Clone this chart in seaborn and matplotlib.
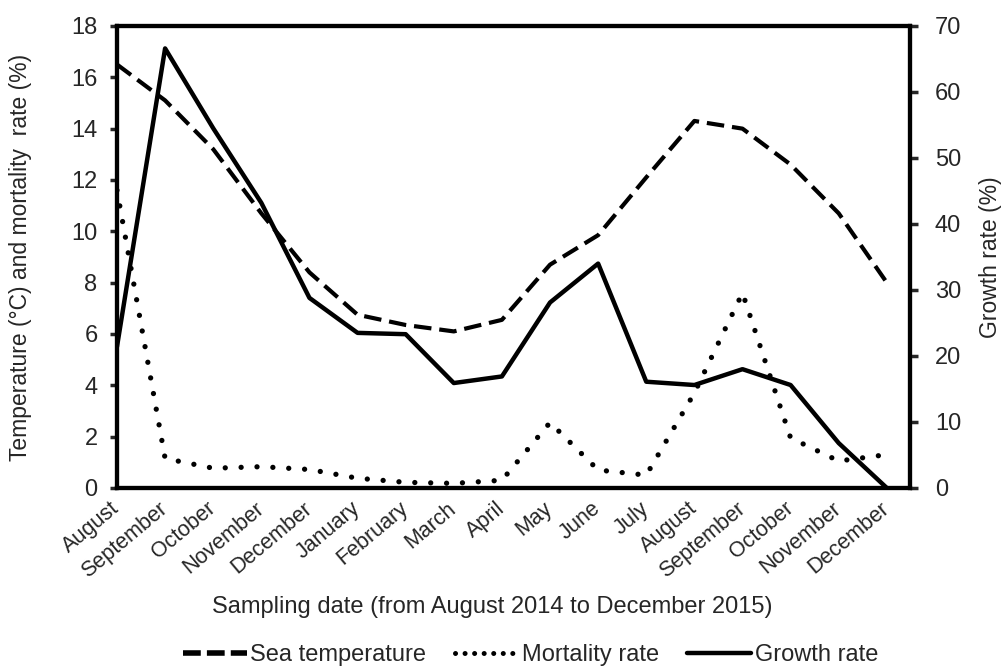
import matplotlib
matplotlib.use("Agg")
import matplotlib.pyplot as plt
from matplotlib.lines import Line2D
import seaborn as sns
import numpy as np
import pandas as pd

months = ["August", "September", "October", "November", "December", "January",
          "February", "March", "April", "May", "June", "July", "August",
          "September", "October", "November", "December"]
sea_temperature = [16.5, 15.1, 13.2, 10.7, 8.4, 6.75, 6.35, 6.1, 6.55, 8.7,
                   9.85, 12.1, 14.3, 14.0, 12.6, 10.7, 8.0]
mortality_rate = [11.6, 1.15, 0.77, 0.83, 0.72, 0.38, 0.22, 0.18, 0.3, 2.55,
                  0.7, 0.5, 3.7, 7.6, 1.95, 1.05, 1.3]
growth_rate = [21.4, 66.6, 54.5, 43.2, 28.8, 23.5, 23.3, 15.9, 16.9, 28.1,
               34.0, 16.1, 15.6, 18.0, 15.6, 6.8, 0.0]
legend_labels = ["Sea temperature", "Mortality rate", "Growth rate"]

sns.set_style("white")
plt.rcParams['font.family'] = ['Liberation Sans', 'DejaVu Sans']

df = pd.DataFrame({"idx": np.arange(len(months)),
                   "temp": sea_temperature,
                   "mort": mortality_rate,
                   "growth": growth_rate})

fig = plt.figure(figsize=(10.05, 6.66), dpi=100)
ax = fig.add_axes([0.1164, 0.2673, 0.789, 0.6937])
ax2 = ax.twinx()

dash_style = (0, (4.2, 1.9))
dot_style = (0, (0.01, 3.0))

sns.lineplot(data=df, x="idx", y="temp", ax=ax, color="black", lw=3.0,
             linestyle=dash_style, legend=False)
sns.lineplot(data=df, x="idx", y="mort", ax=ax, color="black", lw=3.8,
             linestyle=dot_style, legend=False)
sns.lineplot(data=df, x="idx", y="growth", ax=ax2, color="black", lw=3.2,
             linestyle="-", legend=False)
lines = ax.get_lines()
lines[0].set_dash_capstyle("butt")
lines[1].set_dash_capstyle("round")

ax.set_xlim(0, 16.48)
ax.set_ylim(0, 18)
ax2.set_ylim(0, 70)
ax.set_yticks(np.arange(0, 19, 2))
ax2.set_yticks(np.arange(0, 71, 10))
ax.set_xticks(np.arange(len(months)))
ax.set_xticklabels(months, rotation=40, ha="right", va="center",
                   rotation_mode="anchor", fontsize=15.5)
ax.tick_params(axis="y", labelsize=17, direction="out", length=5, width=2.5,
               pad=9)
ax.tick_params(axis="x", direction="out", length=4, width=3, pad=9)
ax2.tick_params(axis="y", labelsize=17, direction="out", length=6, width=2.5,
                pad=12)

for a in (ax, ax2):
    for s in a.spines.values():
        s.set_linewidth(3.0)
        s.set_color("black")

ax.set_xlabel("Sampling date (from August 2014 to December 2015)", fontsize=17)
ax.xaxis.label.set_va("center")
ax.xaxis.set_label_coords(0.473, -0.258)
ax.set_ylabel("Temperature (°C) and mortality  rate (%)", fontsize=16.5)
ax.yaxis.label.set_va("center")
ax.yaxis.set_label_coords(-0.122, 0.5)
ax2.set_ylabel("Growth rate (%)", fontsize=16.5)
ax2.yaxis.label.set_va("center")
ax2.yaxis.set_label_coords(1.101, 0.5)

handles = [
    Line2D([], [], color="black", lw=4.0, linestyle=(0, (3.2, 1.1)),
           dash_capstyle="butt"),
    Line2D([], [], color="black", lw=3.6, linestyle=(0, (0.01, 1.9)),
           dash_capstyle="round"),
    Line2D([], [], color="black", lw=3.2, linestyle="-"),
]
fig.legend(handles, legend_labels, loc="center", bbox_to_anchor=(0.528, 0.0165),
           ncol=3, frameon=False, fontsize=17, handlelength=2.7,
           handletextpad=0.15, columnspacing=1.2, borderpad=0.1)

fig.savefig("out.png", dpi=100)
